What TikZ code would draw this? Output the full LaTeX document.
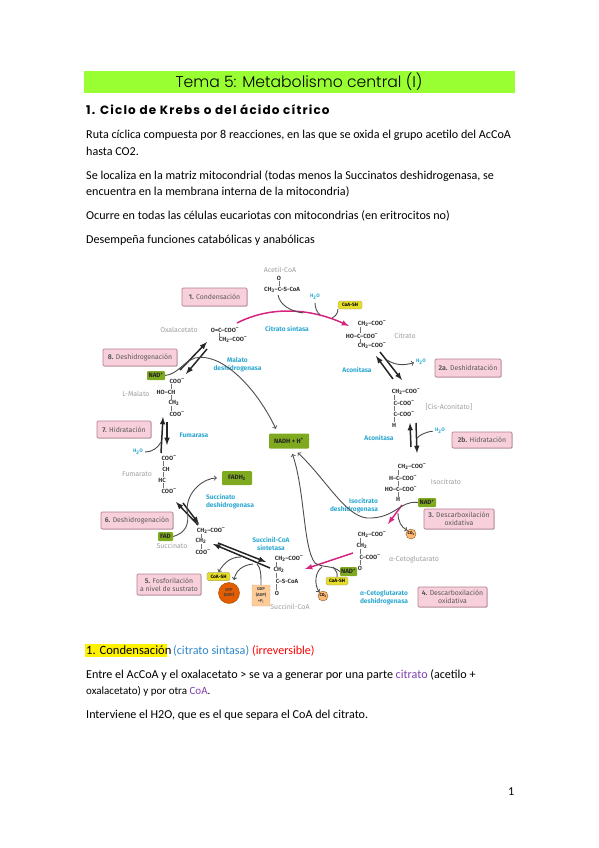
\documentclass[tikz,border=0pt]{standalone}
\usepackage{fontspec}
\setmainfont{Carlito}
\setsansfont{Fira Sans}
\newfontfamily\titlefont{Poppins Light}
\newfontfamily\headfont[LetterSpace=9.5]{Poppins}
\usetikzlibrary{shadows}
\definecolor{bandgreen}{HTML}{99FF33}
\definecolor{stepfill}{HTML}{F8D0DC}
\definecolor{stepline}{HTML}{B57F90}
\definecolor{cofgreen}{HTML}{7FAA1F}
\definecolor{cofyellow}{HTML}{E6DC2A}
\definecolor{enzcyan}{HTML}{2FA8D0}
\definecolor{rosa}{HTML}{D6257F}
\definecolor{txtblue}{HTML}{2E86C8}
\definecolor{txtpurple}{HTML}{7D3FB0}
\newcommand{\tw}{\textsubscript{2}}
\newcommand{\mn}{\textsuperscript{--}}
\newcommand{\pl}{\textsuperscript{+}}
\tikzset{
  bodytxt/.style={anchor=base west,inner sep=0pt,font=\fontsize{12.1}{14}\selectfont},
  stepbox/.style={draw=stepline,fill=stepfill,rounded corners=1.2pt,line width=.7pt,
    drop shadow={shadow xshift=.8pt,shadow yshift=-.8pt,opacity=.35},
    align=center,inner sep=0pt,text=black!65,font=\sffamily\fontsize{6.9}{8.2}\selectfont},
  cofbox/.style={fill=cofgreen,rounded corners=1pt,inner sep=0pt,text=black!85,
    font=\sffamily\bfseries\fontsize{6.3}{7}\selectfont},
  yelbox/.style={fill=cofyellow,draw=black!45,line width=.3pt,rounded corners=1.5pt,inner sep=0pt,
    font=\sffamily\bfseries\fontsize{4.8}{5}\selectfont},
  chem/.style={inner sep=0pt,text=black!80,font=\sffamily\bfseries\fontsize{6}{6}\selectfont},
  graylab/.style={inner sep=0pt,text=black!38,font=\sffamily\fontsize{7}{8}\selectfont},
  enzlab/.style={inner sep=0pt,text=enzcyan,font=\sffamily\bfseries\fontsize{6.6}{8}\selectfont},
  rxn/.style={-latex,line width=1.5pt,black!85},
  rosaarrow/.style={-latex,line width=1.5pt,rosa},
  curv/.style={->,line width=.9pt,black!70},
  bond/.style={line width=.3pt,black!55},
  cotwo/.style={circle,fill=orange!55,draw=brown!70!black,line width=.4pt,inner sep=0pt,minimum size=10pt,
    font=\sffamily\bfseries\fontsize{4}{4}\selectfont}
}
\begin{document}
\begin{tikzpicture}[x=1pt,y=-1pt]
  \useasboundingbox (0,0) rectangle (599,848);
  % page text
  \fill[bandgreen] (84,71) rectangle (515,93);
  \node[inner sep=0pt,font=\titlefont\fontsize{15.6}{18}\selectfont] (titulo) at (299,82) {Tema 5: Metabolismo central (I)};
  \node[bodytxt,font=\headfont\bfseries\fontsize{12}{14}\selectfont] (apartado) at (86,114) {1. Ciclo de Krebs o del ácido cítrico};
  \foreach \y/\lab in {139/{Ruta cíclica compuesta por 8 reacciones, en las que se oxida el grupo acetilo del AcCoA},
      155/{hasta CO2.},
      179/{Se localiza en la matriz mitocondrial (todas menos la Succinatos deshidrogenasa, se},
      195/{encuentra en la membrana interna de la mitocondria)},
      219/{Ocurre en todas las células eucariotas con mitocondrias (en eritrocitos no)},
      243/{Desempeña funciones catabólicas y anabólicas},
      678/{Entre el AcCoA y el oxalacetato > se va a generar por una parte \textcolor{txtpurple}{citrato} (acetilo +},
      718/{Interviene el H2O, que es el que separa el CoA del citrato.}}{
    \node[bodytxt] (ln\y) at (86,\y) {\lab};
  }
  \fill[yellow] (85,644) rectangle (167,657);
  \node[bodytxt,font=\fontsize{12.6}{14}\selectfont] (cond) at (86,654) {1. Condensación};
  \node[bodytxt,text=txtblue] (condenz) at (173,654) {(citrato sintasa)};
  \node[bodytxt,text=red] (condirr) at (252,654) {(irreversible)};
  \node[bodytxt,font=\fontsize{11}{13}\selectfont] (ln694) at (86,694) {oxalacetato) y por otra \textcolor{txtpurple}{CoA}.};
  \node[bodytxt] (pagina) at (508,795) {1};
  % step boxes
  \foreach \n/\cx/\cy/\w/\h/\lab in {a/214.5/297/65/18/{\textbf{1.} Condensación},
      b/140/357.5/74/17/{\textbf{8.} Deshidrogenación},
      c/124/429.5/54/17/{\textbf{7.} Hidratación},
      d/137/520.5/72/17/{\textbf{6.} Deshidrogenación},
      e/169/584.5/64/21/{\textbf{5.} Fosforilación\\a nivel de sustrato},
      f/468/368/66/18/{\textbf{2a.} Deshidratación},
      g/482/440/60/16/{\textbf{2b.} Hidratación},
      h/459/519/70/20/{\textbf{3.} Descarboxilación\\oxidativa},
      i/452.5/597/69/20/{\textbf{4.} Descarboxilación\\oxidativa}}{
    \node[stepbox,minimum width=\w pt,minimum height=\h pt] (paso\n) at (\cx,\cy) {\lab};
  }
  % cofactors
  \node[cofbox,minimum width=18pt,minimum height=9pt] (nadmal) at (156,375.5) {NAD\pl};
  \node[cofbox,minimum width=40pt,minimum height=15pt] (nadh) at (289,441) {NADH + H\pl};
  \node[cofbox,minimum width=30pt,minimum height=14pt] (fadh) at (237,478) {FADH\tw};
  \node[cofbox,minimum width=15pt,minimum height=9pt] (fad) at (165.5,536.5) {FAD};
  \node[cofbox,minimum width=18pt,minimum height=9pt] (nadiso) at (427,502.5) {NAD\pl};
  \node[cofbox,minimum width=17pt,minimum height=9pt] (nadakg) at (348.5,571.5) {NAD\pl};
  \node[yelbox,minimum width=24pt,minimum height=8pt] (coacit) at (350,305) {CoA-SH};
  \node[yelbox,minimum width=23pt,minimum height=8.5pt] (coasuc) at (218.5,576.5) {CoA-SH};
  \node[yelbox,minimum width=22pt,minimum height=8pt] (coaakg) at (337,581) {CoA-SH};
  \node[cotwo] (coiso) at (411,534) {CO\tw};
  \node[cotwo] (coakg) at (323,596) {CO\tw};
  \node[circle,fill=orange!80!red!90!black,draw=orange!60!black,line width=.4pt,inner sep=0pt,minimum size=21pt,
    align=center,text=black!75,font=\sffamily\bfseries\fontsize{4.2}{5}\selectfont] (gtp) at (229,593) {GTP\\(ADP)};
  \node[fill=orange!40,draw=brown!60,line width=.4pt,rounded corners=1pt,inner sep=0pt,minimum width=18pt,minimum height=21pt,
    align=center,text=black!75,font=\sffamily\bfseries\fontsize{4.2}{5.6}\selectfont] (gdp) at (261,595.5) {GDP\\(ADP)\\+P\textsubscript{i}};
  % molecules
  \foreach \fx/\fy/\ftxt [count=\i] in {279/278/O,282/290/{CH\textsubscript{3}--C--S-CoA},
      225/330/{O=C--COO\mn},233/340/{CH\tw--COO\mn},
      177/381/{COO\mn},166/392/{HO--CH},174/403/{CH\tw},177/414/{COO\mn},
      169/458/{COO\mn},166/469/{CH},162/480/{HC},169/491/{COO\mn},
      211/531/{CH\tw--COO\mn},201/541/{CH\tw},203/552/{COO\mn},
      289/559/{CH\tw--COO\mn},279/570/{CH\tw},287/581/{C--S-CoA},277/593/O,
      372/324/{CH\tw--COO\mn},362/336/{HO--C--COO\mn},372/346/{CH\tw--COO\mn},
      406/392/{CH\tw--COO\mn},404/403/{C--COO\mn},404/414/{C--COO\mn},394/425/H,
      412/467/{CH\tw--COO\mn},403/478/{H--C--COO\mn},401/489/{HO--C--COO\mn},398/499/H,
      372/535/{CH\tw--COO\mn},362/546/{CH\tw},370/557/{C--COO\mn},360/568/O}{
    \node[chem] (mol\i) at (\fx,\fy) {\ftxt};
  }
  % vertical bonds
  \foreach \bx/\ba/\bb [count=\i] in {279/281/286,
      219/333/337,171/384/389,171/395/400,171/406/411,
      163/461/466,163/472/477,163/483/488,
      201/534/538,201/544/549,276/562/567,276/573/578,276/584/590,
      360/327/333,360/339/343,
      394/395/400,394/406/411,394/417/422,
      398/470/475,398/481/486,398/492/497,
      360/538/543,360/549/554,360/560/565}{
    \coordinate (ba\i) at (\bx,\ba);
    \coordinate (bb\i) at (\bx,\bb);
    \draw[bond] (ba\i) -- (bb\i);
  }
  % gray and blue labels
  \foreach \fx/\fy/\ftxt [count=\i] in {280/270/Acetil-CoA,179/330/Oxalacetato,405/336/Citrato,
      449/407/{[Cis-Aconitato]},446/482/Isocitrato,414/560/{α-Cetoglutarato},
      290/607/Succinil-CoA,172/546/Succinato,137/474/Fumarato,136/394/L-Malato}{
    \node[graylab] (gris\i) at (\fx,\fy) {\ftxt};
  }
  \foreach \fx/\fy/\al/\ftxt [count=\i] in {287/329/center/Citrato sintasa,237.5/365/center/{Malato\\deshidrogenasa},
      194/435/center/Fumarasa,230/502/left/{Succinato\\deshidrogenasa},271/544/center/{Succinil-CoA\\sintetasa},
      357/370/center/Aconitasa,379/438/center/Aconitasa,354/506/right/{Isocitrato\\deshidrogenasa},
      384/597.5/center/{α-Cetoglutarato\\deshidrogenasa},
      315/297/center/{\fontsize{5}{6}\selectfont H\tw O},421/362/center/{\fontsize{5}{6}\selectfont H\tw O},
      440/431/center/{\fontsize{5}{6}\selectfont H\tw O},138/452/center/{\fontsize{5}{6}\selectfont H\tw O}}{
    \node[enzlab,align=\al] (enz\i) at (\fx,\fy) {\ftxt};
  }
  % reaction arrows
  \foreach \ax/\ay/\bx/\by [count=\i] in {180/370/207/342,207/349/186/374,161/453/163/417,167/422/167/445,
      198/525/176/502,183/503/199/524,218/543/266/562,270/568/213/544,
      393/379/376/356,380/352/402/380,411/447/410/423,416/423/417/453}{
    \coordinate (ra\i) at (\ax,\ay);
    \coordinate (rb\i) at (\bx,\by);
    \draw[rxn] (ra\i) -- (rb\i);
  }
  \coordinate (citA) at (237,323);
  \coordinate (citB) at (349,326);
  \draw[rosaarrow] (citA) .. controls (270,306) and (310,308) .. (citB);
  \coordinate (isoA) at (402,505);
  \coordinate (isoB) at (388,524);
  \draw[rosaarrow] (isoA) -- (isoB);
  \coordinate (akgA) at (353,553);
  \coordinate (akgB) at (305,569);
  \draw[rosaarrow] (akgA) -- (akgB);
  % cofactor curves
  \draw[curv,shorten >=5pt] (nadmal.east) .. controls (178,374) and (183,362) .. (195,358)
     .. controls (220,352) and (255,385) .. (nadh.north -| 278,433);
  \draw[curv,shorten >=1pt] (nadiso.west) .. controls (400,500) and (395,519) .. (367,518)
     .. controls (345,516) and (325,478) .. (297,452);
  \draw[curv,shorten >=1pt] (nadakg.west) .. controls (333,565) and (322,568) .. (315,563)
     .. controls (303,548) and (305,490) .. (292,453);
  \draw[curv,shorten >=5pt] (fad.east) .. controls (185,533) and (190,525) .. (187,510)
     .. controls (187,490) and (205,478) .. (fadh.west);
  \coordinate (aceA) at (278,295);
  \coordinate (aceB) at (303,313);
  \draw[line width=.9pt,black!70] (aceA) .. controls (280,305) and (290,311) .. (aceB);
  \coordinate (hcit) at (320,315);
  \draw[line width=.9pt,black!70,shorten <=3pt] (enz10.south) .. controls (315,308) and (317,312) .. (hcit);
  \coordinate (ccit) at (332,318);
  \draw[line width=.9pt,black!70] (ccit) .. controls (336,316) and (338,313) .. (coacit.south west);
  \coordinate (hida) at (387,360);
  \draw[curv,shorten >=2pt] (hida) .. controls (395,365) and (403,366) .. (enz11.west);
  \coordinate (hvta) at (417,438);
  \draw[line width=.9pt,black!70,shorten >=2pt] (hvta) .. controls (420,435) and (425,432) .. (enz12.west);
  \coordinate (hfum) at (161,442);
  \draw[line width=.9pt,black!70,shorten >=2pt] (hfum) .. controls (158,448) and (152,452) .. (enz13.east);
  \coordinate (suA) at (241,557);
  \draw[curv] (suA) .. controls (232,557) and (225,561) .. (coasuc.north);
  \coordinate (suB) at (253,564);
  \draw[curv] (suB) .. controls (243,565) and (236,570) .. (234,580);
  \coordinate (suC) at (257,564);
  \draw[line width=.9pt,black!70] (suC) .. controls (261,568) and (261,575) .. (gdp.north);
  \coordinate (coA) at (398,513);
  \draw[curv] (coA) .. controls (398,521) and (401,527) .. (coiso.north west);
  \coordinate (coB) at (322,567);
  \draw[curv] (coB) .. controls (315,572) and (314,584) .. (coakg.north west);
  \coordinate (coC) at (333,567);
  \draw[line width=.9pt,black!70] (coC) .. controls (336,571) and (338,573) .. (coaakg.north);
\end{tikzpicture}
\end{document}
